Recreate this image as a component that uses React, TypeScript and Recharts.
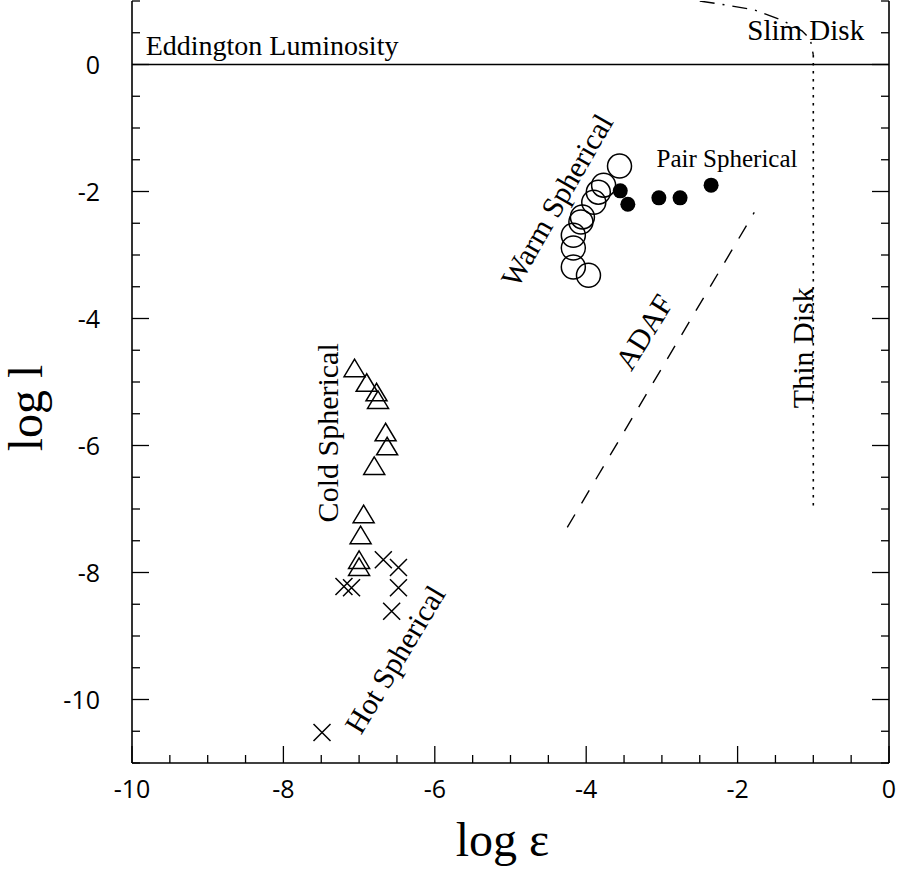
import React from "react";
import { ScatterChart, Scatter, XAxis, YAxis, ReferenceLine, Label } from "recharts";

// axis ticks
const xMajorTicks = [-10, -8, -6, -4, -2, 0];
const xAllTicks = [
  -10, -9.5, -9, -8.5, -8, -7.5, -7, -6.5, -6, -5.5, -5, -4.5, -4, -3.5, -3,
  -2.5, -2, -1.5, -1, -0.5, 0,
];
const yMajorTicks = [-10, -8, -6, -4, -2, 0];
const yAllTicks = [
  -11, -10.5, -10, -9.5, -9, -8.5, -8, -7.5, -7, -6.5, -6, -5.5, -5, -4.5, -4,
  -3.5, -3, -2.5, -2, -1.5, -1, -0.5, 0, 0.5, 1,
];

// solutions (log epsilon, log l)
const warmSpherical = [
  { x: -3.56, y: -1.6 },
  { x: -3.77, y: -1.9 },
  { x: -3.84, y: -2.01 },
  { x: -3.9, y: -2.17 },
  { x: -4.05, y: -2.4 },
  { x: -4.07, y: -2.48 },
  { x: -4.17, y: -2.69 },
  { x: -4.17, y: -2.89 },
  { x: -4.17, y: -3.19 },
  { x: -3.97, y: -3.32 },
];

const pairSpherical = [
  { x: -3.55, y: -1.99 },
  { x: -3.45, y: -2.2 },
  { x: -3.04, y: -2.1 },
  { x: -2.76, y: -2.1 },
  { x: -2.35, y: -1.9 },
];

const coldSpherical = [
  { x: -7.06, y: -4.79 },
  { x: -6.9, y: -5.02 },
  { x: -6.77, y: -5.17 },
  { x: -6.75, y: -5.29 },
  { x: -6.65, y: -5.8 },
  { x: -6.63, y: -6.02 },
  { x: -6.8, y: -6.33 },
  { x: -6.94, y: -7.09 },
  { x: -6.98, y: -7.42 },
  { x: -7.0, y: -7.81 },
  { x: -7.0, y: -7.92 },
];

const hotSpherical = [
  { x: -6.68, y: -7.8 },
  { x: -6.48, y: -7.92 },
  { x: -6.48, y: -8.24 },
  { x: -6.57, y: -8.61 },
  { x: -7.1, y: -8.24 },
  { x: -7.2, y: -8.22 },
  { x: -7.49, y: -10.52 },
];

const adaf = [
  { x: -4.25, y: -7.29 },
  { x: -1.78, y: -2.33 },
];

const thinDisk = [
  { x: -1, y: 0.15 },
  { x: -1, y: -7 },
];

const slimDisk = [
  { x: -2.5, y: 1 },
  { x: -2.17, y: 0.94 },
  { x: -1.78, y: 0.86 },
  { x: -1.4, y: 0.69 },
  { x: -1.15, y: 0.53 },
  { x: -1.04, y: 0.4 },
  { x: -1, y: 0.15 },
];

const eddington = 0;

const labels = [
  { text: "Eddington Luminosity", x: -9.82, y: 0.15 },
  { text: "Slim Disk", x: -1.1, y: 0.38 },
  { text: "Pair Spherical", x: -2.14, y: -1.62 },
  { text: "Warm Spherical", x: -4.27, y: -2.22 },
  { text: "ADAF", x: -3.12, y: -4.3 },
  { text: "Thin Disk", x: -1.01, y: -4.46 },
  { text: "Cold Spherical", x: -7.28, y: -5.8 },
  { text: "Hot Spherical", x: -6.41, y: -9.45 },
];

const labelLook: Record<string, { angle: number; size: number; anchor: string }> = {
  "Eddington Luminosity": { angle: 0, size: 28, anchor: "start" },
  "Slim Disk": { angle: 0, size: 29, anchor: "middle" },
  "Pair Spherical": { angle: 0, size: 25, anchor: "middle" },
  "Warm Spherical": { angle: -60, size: 30, anchor: "middle" },
  ADAF: { angle: -58, size: 30, anchor: "middle" },
  "Thin Disk": { angle: -90, size: 30, anchor: "middle" },
  "Cold Spherical": { angle: -90, size: 30, anchor: "middle" },
  "Hot Spherical": { angle: -59, size: 30, anchor: "middle" },
};

const SERIF = "'Liberation Serif', 'Times New Roman', serif";
const SANS = "'Open Sans', 'DejaVu Sans', sans-serif";
const MAJOR = 17;
const MINOR = 8;

const BottomTick = (p: any) => {
  const v = p.payload.value;
  const major = xMajorTicks.includes(v);
  return (
    <g>
      <line x1={p.x} x2={p.x} y1={p.y} y2={p.y - (major ? MAJOR : MINOR)} stroke="#000" strokeWidth={1.3} />
      {major && (
        <text x={p.x} y={p.y + 35} textAnchor="middle" fontFamily={SANS} fontSize={25} fill="#000">
          {String(v)}
        </text>
      )}
    </g>
  );
};

const TopTick = (p: any) => {
  const major = xMajorTicks.includes(p.payload.value);
  return <line x1={p.x} x2={p.x} y1={p.y} y2={p.y + (major ? MAJOR : MINOR)} stroke="#000" strokeWidth={1.3} />;
};

const LeftTick = (p: any) => {
  const v = p.payload.value;
  const major = yMajorTicks.includes(v);
  return (
    <g>
      <line x1={p.x} x2={p.x + (major ? MAJOR : MINOR)} y1={p.y} y2={p.y} stroke="#000" strokeWidth={1.3} />
      {major && (
        <text x={p.x - 32} y={p.y + 9} textAnchor="end" fontFamily={SANS} fontSize={25} fill="#000">
          {String(v)}
        </text>
      )}
    </g>
  );
};

const RightTick = (p: any) => {
  const major = yMajorTicks.includes(p.payload.value);
  return <line x1={p.x} x2={p.x - (major ? MAJOR : MINOR)} y1={p.y} y2={p.y} stroke="#000" strokeWidth={1.3} />;
};

const OpenCircle = (p: any) => (
  <circle cx={p.cx} cy={p.cy} r={12} fill="none" stroke="#000" strokeWidth={1.5} />
);

const FilledDot = (p: any) => <circle cx={p.cx} cy={p.cy} r={7.5} fill="#000" />;

const OpenTriangle = (p: any) => (
  <path
    d={`M${p.cx},${p.cy - 9.5} L${p.cx - 10.5},${p.cy + 8} L${p.cx + 10.5},${p.cy + 8} Z`}
    fill="none"
    stroke="#000"
    strokeWidth={1.5}
  />
);

const Cross = (p: any) => {
  const s = 8.5;
  return (
    <path
      d={`M${p.cx - s},${p.cy - s} L${p.cx + s},${p.cy + s} M${p.cx - s},${p.cy + s} L${p.cx + s},${p.cy - s}`}
      stroke="#000"
      strokeWidth={1.5}
      fill="none"
    />
  );
};

const NoMark = () => <g />;

const TextMark = (p: any) => {
  const text = p.payload?.text ?? p.text;
  const look = labelLook[text];
  return (
    <text
      x={p.cx}
      y={p.cy}
      transform={`rotate(${look.angle} ${p.cx} ${p.cy})`}
      textAnchor={look.anchor as any}
      fontFamily={SERIF}
      fontSize={look.size}
      fill="#000"
    >
      {text}
    </text>
  );
};

const App = () => {
  return (
    <div style={{ position: "absolute", left: 0, top: 0, background: "#fff" }}>
      <ScatterChart width={901} height={875} margin={{ top: 1, right: 0, bottom: 0, left: 0 }}>
        <XAxis
          xAxisId={0}
          type="number"
          dataKey="x"
          domain={[-10, 0]}
          allowDataOverflow
          ticks={xAllTicks}
          interval={0}
          height={112}
          tickSize={0}
          tickMargin={0}
          tickLine={false}
          tick={BottomTick}
          axisLine={{ stroke: "#000", strokeWidth: 1.6 }}
        >
          <Label
            content={(props: any) => {
              const vb = props.viewBox || { x: 132, y: 763, width: 757 };
              return (
                <text x={vb.x + vb.width / 2 - 8} y={vb.y + 93} textAnchor="middle" fontFamily={SERIF} fontSize={48} fill="#000">
                  log ε
                </text>
              );
            }}
          />
        </XAxis>
        <XAxis
          xAxisId="top"
          orientation="top"
          type="number"
          dataKey="x"
          domain={[-10, 0]}
          allowDataOverflow
          ticks={xAllTicks}
          interval={0}
          height={0}
          tickSize={0}
          tickMargin={0}
          tickLine={false}
          tick={TopTick}
          axisLine={{ stroke: "#000", strokeWidth: 1.6 }}
        />
        <YAxis
          yAxisId={0}
          type="number"
          dataKey="y"
          domain={[-11, 1]}
          allowDataOverflow
          ticks={yAllTicks}
          interval={0}
          width={132}
          tickSize={0}
          tickMargin={0}
          tickLine={false}
          tick={LeftTick}
          axisLine={{ stroke: "#000", strokeWidth: 1.6 }}
        >
          <Label
            content={(props: any) => {
              const vb = props.viewBox || { x: 0, y: 1, height: 762 };
              const cx = 42;
              const cy = vb.y + vb.height / 2 + 26;
              return (
                <text x={cx} y={cy} transform={`rotate(-90 ${cx} ${cy})`} textAnchor="middle" fontFamily={SERIF} fontSize={48} fill="#000">
                  log l
                </text>
              );
            }}
          />
        </YAxis>
        <YAxis
          yAxisId="right"
          orientation="right"
          type="number"
          dataKey="y"
          domain={[-11, 1]}
          allowDataOverflow
          ticks={yAllTicks}
          interval={0}
          width={12}
          tickSize={0}
          tickMargin={0}
          tickLine={false}
          tick={RightTick}
          axisLine={{ stroke: "#000", strokeWidth: 1.6 }}
        />

        <ReferenceLine y={eddington} stroke="#000" strokeWidth={1.3} />

        <Scatter
          data={adaf}
          shape={NoMark}
          line={{ stroke: "#000", strokeWidth: 1.4, strokeDasharray: "15 13" }}
          isAnimationActive={false}
        />
        <Scatter
          data={thinDisk}
          shape={NoMark}
          line={{ stroke: "#000", strokeWidth: 1.6, strokeDasharray: "2.5 5.5" }}
          isAnimationActive={false}
        />
        <Scatter
          data={slimDisk}
          shape={NoMark}
          line={{ stroke: "#000", strokeWidth: 1.4, strokeDasharray: "15 8 2 8" }}
          isAnimationActive={false}
        />

        <Scatter data={warmSpherical} shape={OpenCircle} isAnimationActive={false} />
        <Scatter data={pairSpherical} shape={FilledDot} isAnimationActive={false} />
        <Scatter data={coldSpherical} shape={OpenTriangle} isAnimationActive={false} />
        <Scatter data={hotSpherical} shape={Cross} isAnimationActive={false} />

        <Scatter data={labels} shape={TextMark} isAnimationActive={false} />
      </ScatterChart>
    </div>
  );
};

export default App;
